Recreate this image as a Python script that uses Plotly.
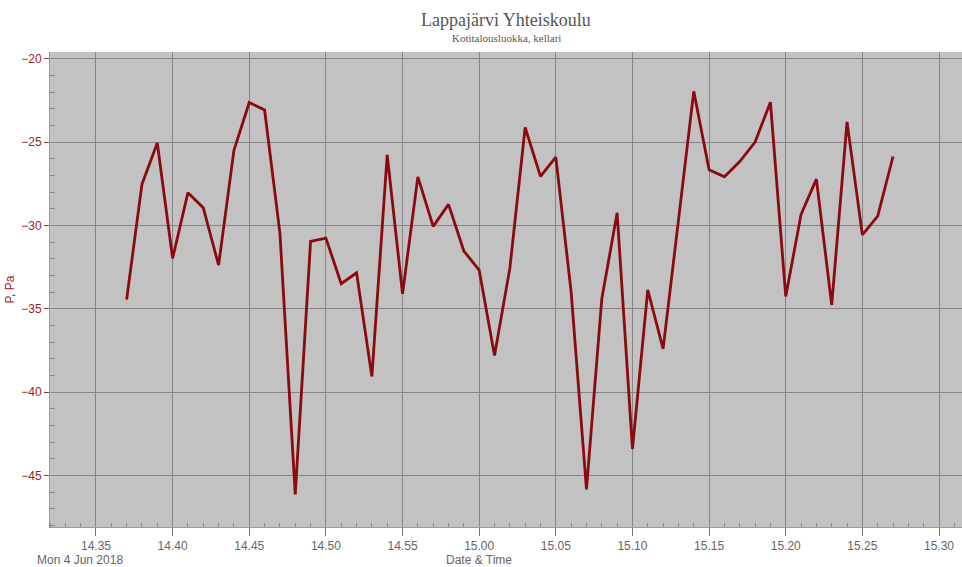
import plotly.graph_objects as go
import pandas as pd

start_time = "2018-06-04 14:37"
n_points = 51
pressure = [
    -34.45, -27.53, -25.06, -31.98, -28.04, -28.95, -32.39, -25.5, -22.63, -23.08,
    -30.47, -46.15, -30.97, -30.77, -33.5, -32.85, -39.07, -25.77, -34.11, -27.09,
    -30.06, -28.74, -31.54, -32.69, -37.81, -32.59, -24.13, -27.06, -25.91, -34.0,
    -45.85, -34.41, -29.25, -43.42, -33.87, -37.41, -29.7, -21.96, -26.66, -27.09,
    -26.17, -25.0, -22.61, -34.27, -29.35, -27.23, -34.78, -23.79, -30.57, -29.45,
    -25.87,
]
times = pd.date_range(start_time, periods=n_points, freq="1min")
y_ticks = [-20, -25, -30, -35, -40, -45]

title_text = "Lappajärvi Yhteiskoulu"
subtitle_text = "Kotitalousluokka, kellari"
y_title = "P, Pa"
x_title = "Date & Time"
date_label = "Mon 4 Jun 2018"

fig = go.Figure()
fig.add_trace(go.Scatter(
    x=times, y=pressure, mode="lines",
    line=dict(color="#8b0a0f", width=2.8),
    hoverinfo="x+y", showlegend=False,
))

fig.update_layout(
    width=962, height=567,
    margin=dict(l=50, r=0, t=52, b=40, autoexpand=False),
    paper_bgcolor="white",
    plot_bgcolor="#c2c2c2",
    font=dict(family="Liberation Sans, Arial, sans-serif"),
    xaxis=dict(
        automargin=False,
        range=["2018-06-04 14:32:00", "2018-06-04 15:31:30"],
        tickformat="%H.%M", dtick=300000,
        tick0="2018-06-04 14:35",
        showgrid=True, gridcolor="#858585", gridwidth=1,
        ticks="outside", ticklen=8, tickcolor="#777777",
        tickfont=dict(size=12, color="#666666"),
        showline=True, linecolor="#9a9a9a", linewidth=1,
        minor=dict(ticks="inside", dtick=60000, ticklen=4, tickcolor="#8a8a8a", showgrid=False),
        zeroline=False,
    ),
    yaxis=dict(
        automargin=False,
        range=[-48.1, -19.6],
        tickvals=y_ticks,
        showgrid=True, gridcolor="#858585", gridwidth=1,
        ticks="outside", ticklen=5, tickcolor="#8b3a3a",
        tickfont=dict(size=12, color="#9b1c22"),
        showline=True, linecolor="#9a9a9a", linewidth=1,
        minor=dict(ticks="inside", dtick=1, ticklen=5, tickcolor="#8a8a8a", showgrid=False),
        zeroline=False,
        title=dict(text=y_title, font=dict(size=12, color="#9b1c22"), standoff=4),
    ),
    annotations=[
        dict(text=title_text, xref="paper", yref="paper", x=0.5, y=1, yshift=32,
             xanchor="center", yanchor="middle", showarrow=False,
             font=dict(family="Liberation Serif, Times New Roman, serif", size=18, color="#555555")),
        dict(text=subtitle_text, xref="paper", yref="paper", x=0.5, y=1, yshift=14,
             xanchor="center", yanchor="middle", showarrow=False,
             font=dict(family="Liberation Serif, Times New Roman, serif", size=11, color="#555555")),
        dict(text=x_title, xref="paper", yref="paper", x=(479 - 50) / 912, y=0, yshift=-33,
             xanchor="center", yanchor="middle", showarrow=False,
             font=dict(size=12, color="#666666")),
        dict(text=date_label, xref="paper", yref="paper", x=(80 - 50) / 912, y=0, yshift=-33,
             xanchor="center", yanchor="middle", showarrow=False,
             font=dict(size=12, color="#666666")),
    ],
)

fig.write_html(
    "out.html",
    config={"displayModeBar": False},
    post_script="document.body.style.margin='0';document.body.style.overflow='hidden';",
)
